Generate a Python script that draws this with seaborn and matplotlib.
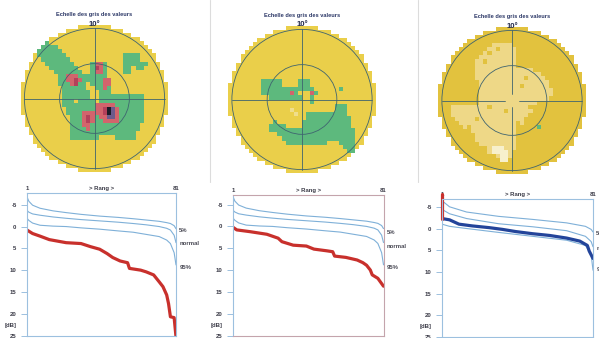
import matplotlib
matplotlib.use("Agg")
import numpy as np
import matplotlib.pyplot as plt
import seaborn as sns
from matplotlib.colors import ListedColormap
from matplotlib.patches import Circle
from matplotlib.lines import Line2D
import matplotlib.transforms as mtransforms

# ---------------------------------------------------------------- data
map_title = "Echelle des gris des valeurs"
map_scale_label = "10°"
GRID_N = 36

# grey-scale maps: {row: [(first_col, last_col, class), ...]}, rest = normal
map1_cells = {
    4: [(4, 6, 'g')],
    5: [(2, 8, 'g')],
    6: [(2, 9, 'g')],
    7: [(4, 10, 'g'), (25, 28, 'g')],
    8: [(5, 11, 'g'), (25, 28, 'g')],
    9: [(6, 12, 'g'), (17, 20, 'g'), (18, 19, 'r'), (25, 28, 'g'), (29, 30, 'g')],
    10: [(7, 13, 'g'), (17, 20, 'g'), (18, 18, 'm'), (19, 19, 'r'), (25, 26, 'g'), (28, 29, 'g')],
    11: [(8, 14, 'g'), (17, 20, 'g'), (18, 19, 'r'), (25, 26, 'g')],
    12: [(9, 15, 'g'), (11, 13, 'r'), (16, 20, 'g')],
    13: [(9, 15, 'g'), (11, 14, 'r'), (13, 13, 'm'), (16, 21, 'g'), (20, 21, 'r')],
    14: [(9, 15, 'g'), (12, 13, 'r'), (13, 13, 'm'), (17, 21, 'g'), (20, 21, 'r')],
    15: [(10, 15, 'g'), (18, 21, 'g'), (20, 20, 'r')],
    16: [(10, 16, 'g'), (19, 21, 'g')],
    17: [(10, 16, 'g'), (19, 29, 'g')],
    18: [(10, 12, 'g'), (14, 17, 'g'), (19, 29, 'g')],
    19: [(10, 29, 'g'), (18, 22, 'r')],
    20: [(11, 29, 'g'), (18, 23, 'r'), (20, 20, 'm'), (21, 21, 'k'), (22, 22, 'p')],
    21: [(11, 29, 'g'), (15, 17, 'r'), (18, 23, 'r'), (20, 20, 'm'), (21, 21, 'k'), (22, 22, 'p')],
    22: [(12, 29, 'g'), (15, 17, 'r'), (16, 16, 'm'), (19, 23, 'r'), (21, 22, 'p')],
    23: [(12, 29, 'g'), (15, 17, 'r'), (16, 16, 'm'), (20, 23, 'r')],
    24: [(12, 28, 'g'), (15, 16, 'r')],
    25: [(12, 28, 'g'), (16, 16, 'r')],
    26: [(12, 27, 'g')],
    27: [(12, 18, 'g'), (23, 27, 'g')],
}
map2_cells = {
    13: [(8, 12, 'g'), (17, 19, 'g')],
    14: [(8, 12, 'g'), (17, 19, 'g')],
    15: [(8, 20, 'g'), (27, 27, 'g')],
    16: [(8, 16, 'g'), (15, 15, 'r'), (20, 21, 'g'), (20, 20, 'r')],
    17: [(10, 17, 'g'), (20, 20, 'g')],
    18: [(20, 20, 'g')],
    19: [(26, 28, 'g')],
    20: [(15, 15, 'l'), (26, 28, 'g')],
    21: [(16, 16, 'l'), (19, 28, 'g')],
    22: [(19, 29, 'g')],
    23: [(11, 11, 'g'), (18, 29, 'g')],
    24: [(10, 13, 'g'), (18, 29, 'g')],
    25: [(10, 30, 'g')],
    26: [(12, 30, 'g')],
    27: [(13, 30, 'g')],
    28: [(14, 23, 'g'), (27, 30, 'g')],
    29: [(28, 30, 'g')],
    30: [(29, 30, 'g')],
}
map3_cells = {
    4: [(13, 17, 'l')],
    5: [(12, 18, 'l'), (14, 14, '.')],
    6: [(11, 18, 'l'), (12, 12, '.')],
    7: [(10, 18, 'l')],
    8: [(9, 18, 'l'), (11, 11, '.')],
    9: [(9, 18, 'l')],
    10: [(9, 22, 'l')],
    11: [(9, 24, 'l')],
    12: [(9, 25, 'l'), (21, 21, '.')],
    13: [(10, 26, 'l')],
    14: [(10, 26, 'l'), (20, 20, '.')],
    15: [(10, 27, 'l')],
    16: [(10, 27, 'l')],
    17: [(10, 26, 'l')],
    18: [(10, 26, 'l'), (24, 26, '.')],
    19: [(3, 25, 'l'), (12, 12, '.'), (22, 25, '.')],
    20: [(3, 22, 'l'), (16, 16, '.')],
    21: [(3, 21, 'l')],
    22: [(4, 20, 'l'), (9, 9, '.')],
    23: [(5, 18, 'l'), (20, 20, 'l')],
    24: [(6, 18, 'l'), (7, 7, '.'), (24, 24, 'g')],
    25: [(8, 18, 'l')],
    26: [(9, 18, 'l')],
    27: [(9, 18, 'l')],
    28: [(10, 18, 'l')],
    29: [(12, 18, 'l'), (13, 15, 'w')],
    30: [(12, 17, 'l'), (13, 16, 'w')],
    31: [(14, 17, 'l'), (15, 16, 'w')],
    32: [(15, 16, 'w')],
}

# Bebie curves: x tick labels
rank_labels = ["1", "81"]
rank_title = "> Rang >"
db_ticks = [-5, 0, 5, 10, 15, 20, 25]
band_labels = ["5%", "normal", "95%"]

# normal percentile curves (panels 1 & 2)
ranks_norm = [1, 2, 4, 8, 15, 22, 30, 40, 50, 58, 65, 72, 76, 78, 80, 81]
p5_a = [-6.8, -5.8, -4.9, -4.2, -3.6, -3.2, -2.8, -2.4, -2.1, -1.8, -1.5, -1.2, -0.9, -0.7, -0.2, 0.5]
normal_a = [-3.7, -3.3, -2.9, -2.6, -2.2, -1.9, -1.6, -1.3, -1.0, -0.7, -0.4, 0.0, 0.4, 0.8, 2.0, 3.7]
p95_a = [-1.9, -1.4, -0.8, -0.3, -0.1, 0.0, 0.3, 0.6, 1.0, 1.3, 1.8, 2.3, 3.1, 3.9, 6.0, 8.8]

# normal percentile curves (panel 3)
ranks_norm3 = [1, 5, 14, 31, 49, 67, 77, 80, 81]
p5_b = [-6.4, -5.0, -3.8, -2.8, -2.1, -1.3, -0.5, 0.2, 0.8]
normal_b = [-4.4, -3.4, -2.3, -1.1, -0.4, 0.5, 1.8, 3.0, 4.2]
p95_b = [-1.0, -0.5, 0.0, 0.9, 1.8, 2.7, 3.9, 6.0, 9.6]

# patient curves
pat1_rank = [1, 4, 8, 13, 22, 30, 35, 40, 44, 47, 51, 55, 56, 62, 65, 69, 72, 74, 76, 77, 78, 80, 81]
pat1_db = [0.8, 1.6, 2.2, 3.0, 3.7, 3.9, 4.6, 5.2, 6.2, 7.1, 7.9, 8.3, 9.6, 10.0, 10.4, 11.1,
           12.7, 13.8, 15.7, 17.7, 20.7, 20.9, 25.3]
pat2_rank = [1, 3, 10, 19, 25, 27, 33, 40, 44, 51, 54, 55, 61, 67, 70, 72, 74, 75, 78, 80, 81]
pat2_db = [0.2, 0.8, 1.2, 1.8, 2.7, 3.5, 4.3, 4.5, 5.2, 5.6, 5.8, 6.8, 7.1, 7.7, 8.3, 8.9,
           10.0, 11.1, 11.9, 13.1, 13.7]
pat3_rank = [1, 5, 10, 17, 26, 33, 40, 49, 58, 67, 74, 78, 79, 81]
pat3_db = [-2.3, -2.0, -1.0, -0.6, -0.2, 0.2, 0.7, 1.2, 1.6, 2.2, 2.9, 3.9, 5.2, 6.9]
pat3_offscale_db = -7.9   # first rank value beyond the top of the scale

# ---------------------------------------------------------------- style
W, H = 599, 338
sns.set_theme(style="white")
plt.rcParams["font.family"] = ["Liberation Sans", "DejaVu Sans"]

fig = plt.figure(figsize=(W / 100, H / 100), dpi=100)
fig.patch.set_facecolor("white")

classes = ['.', 'l', 'w', 'g', 'r', 'm', 'k', 'p']
pal_a = ['#eacf4a', '#f0de8c', '#f6efc8', '#5db97d', '#d2646c', '#b4405a', '#1c1c28', '#6c5a8c']
pal_b = ['#e2c23e', '#eed887', '#f7f0cc', '#5db97d', '#d2646c', '#b4405a', '#1c1c28', '#6c5a8c']
grid_col = '#3f6470'
title_col = '#2b3766'
txt_col = '#3c3c48'
spine_col = '#9cc0df'
thin_col = '#7fb0d8'


def build_grid(cells):
    g = np.zeros((GRID_N, GRID_N), dtype=int)
    for row, segs in cells.items():
        for c0, c1, ch in segs:
            g[row, c0:c1 + 1] = classes.index(ch)
    return g


yy, xx = np.mgrid[0:GRID_N, 0:GRID_N] + 0.5
C = GRID_N / 2
disk_mask = (xx - C) ** 2 + (yy - C) ** 2 > 18.0 ** 2

cell_px = 4.1
map_specs = [
    (map1_cells, pal_a, 94.5, 98.5, 0.0),
    (map2_cells, pal_a, 302.0, 99.5, 0.0),
    (map3_cells, pal_b, 512.0, 100.5, 1.6),
]
for cells, pal, cx, cy, gap in map_specs:
    size = GRID_N * cell_px
    ax = fig.add_axes([(cx - size / 2) / W, 1 - (cy + size / 2) / H, size / W, size / H])
    grid = build_grid(cells)
    sns.heatmap(grid, mask=disk_mask, cmap=ListedColormap(pal), vmin=-0.5,
                vmax=len(pal) - 0.5, cbar=False, xticklabels=False,
                yticklabels=False, ax=ax, linewidths=0)
    ax.set_axis_off()
    R_out, R_in = 17.1, 8.5
    ax.add_patch(Circle((C, C), R_out, fill=False, ec=grid_col, lw=0.6))
    ax.add_patch(Circle((C, C), R_in, fill=False, ec=grid_col, lw=0.6))
    if gap > 0:
        for s in (-1, 1):
            ax.plot([C + s * gap, C + s * R_out], [C, C], color=grid_col, lw=0.6)
            ax.plot([C, C], [C + s * gap, C + s * R_out], color=grid_col, lw=0.6)
    else:
        ax.plot([C - R_out, C + R_out], [C, C], color=grid_col, lw=0.6)
        ax.plot([C, C], [C - R_out, C + R_out], color=grid_col, lw=0.6)
    fig.text(cx / W, 1 - (cy - 84) / H, map_title, ha='center', va='center',
             fontsize=4.1, weight='bold', color=title_col)
    fig.text(cx / W, 1 - (cy - 74.5) / H, map_scale_label, ha='center', va='center',
             fontsize=5.6, weight='bold', color='#222a4a')

# faint scan separators
for xs in (210, 418):
    fig.add_artist(Line2D([xs / W, xs / W], [1, 1 - 182 / H], color='#dcdcdc', lw=0.8))

# ---------------------------------------------------------------- Bebie curves
panels = [
    dict(px=(27, 176, 193, 335.5), ylim=(25, -7.7), norm=(ranks_norm, p5_a, normal_a, p95_a),
         pat=(pat1_rank, pat1_db), pcol='#c8302c', box='#9cc0df', lab_y=[1.0, 4.0, 9.3]),
    dict(px=(233, 383.5, 195, 335.5), ylim=(25, -7.2), norm=(ranks_norm, p5_a, normal_a, p95_a),
         pat=(pat2_rank, pat2_db), pcol='#c8302c', box='#c4a4ac', lab_y=[1.3, 4.5, 9.5]),
    dict(px=(442, 593, 199, 337), ylim=(25, -6.8), norm=(ranks_norm3, p5_b, normal_b, p95_b),
         pat=(pat3_rank, pat3_db), pcol='#23449a', box='#9cc0df', lab_y=[1.1, 4.5, 9.5]),
]

for i, p in enumerate(panels):
    x0, x1, y0, y1 = p['px']
    ax = fig.add_axes([x0 / W, 1 - y1 / H, (x1 - x0) / W, (y1 - y0) / H])
    ax.set_facecolor('white')
    rk, a5, an, a95 = p['norm']
    for vals in (a5, an, a95):
        sns.lineplot(x=rk, y=vals, ax=ax, color=thin_col, lw=0.8, estimator=None, sort=False)
    prk, pdb = p['pat']
    sns.lineplot(x=prk, y=pdb, ax=ax, color=p['pcol'], lw=2.3, estimator=None, sort=False)
    if i == 2:
        sns.lineplot(x=[prk[0], prk[0]], y=[pat3_offscale_db, pdb[0]], ax=ax,
                     color='#c8302c', lw=2.3, estimator=None, sort=False)
        for ln in ax.lines[-1:]:
            ln.set_clip_on(False)
    ax.set_xlim(1, 81)
    ax.set_ylim(*p['ylim'])
    for side in ('left', 'top', 'right', 'bottom'):
        ax.spines[side].set_visible(True)
        ax.spines[side].set_linewidth(0.8)
        ax.spines[side].set_color(spine_col if side == 'left' else p['box'])
    ax.set_yticks(db_ticks)
    ax.set_yticklabels([str(v) for v in db_ticks])
    ax.tick_params(axis='y', left=True, length=4.5, width=0.7, color=spine_col, pad=3,
                   labelsize=4.3, labelcolor=txt_col)
    for t in ax.get_yticklabels():
        t.set_fontweight('bold')
    ax.xaxis.tick_top()
    ax.set_xticks([1, 81])
    ax.set_xticklabels(rank_labels)
    ax.tick_params(axis='x', top=True, bottom=False, length=0, pad=1.2,
                   labelsize=4.3, labelcolor=txt_col)
    for t in ax.get_xticklabels():
        t.set_fontweight('bold')
    ax.set_xlabel('')
    ax.set_ylabel('')
    ax.text(0.5, 1.012, rank_title, transform=ax.transAxes, ha='center', va='bottom',
            fontsize=4.3, weight='bold', color=txt_col)
    bt = mtransforms.blended_transform_factory(ax.transAxes, ax.transData)
    ax.text(-0.07, 22.6, '[dB]', transform=bt, ha='right', va='center',
            fontsize=4.3, weight='bold', color=txt_col)
    for lab, yv in zip(band_labels, p['lab_y']):
        ax.text(1.022, yv, lab, transform=bt, ha='left', va='center', fontsize=4.3,
                weight='bold', color='#4a4a55', clip_on=False)
    ax.grid(False)

fig.savefig("out.png", dpi=100, facecolor='white')
